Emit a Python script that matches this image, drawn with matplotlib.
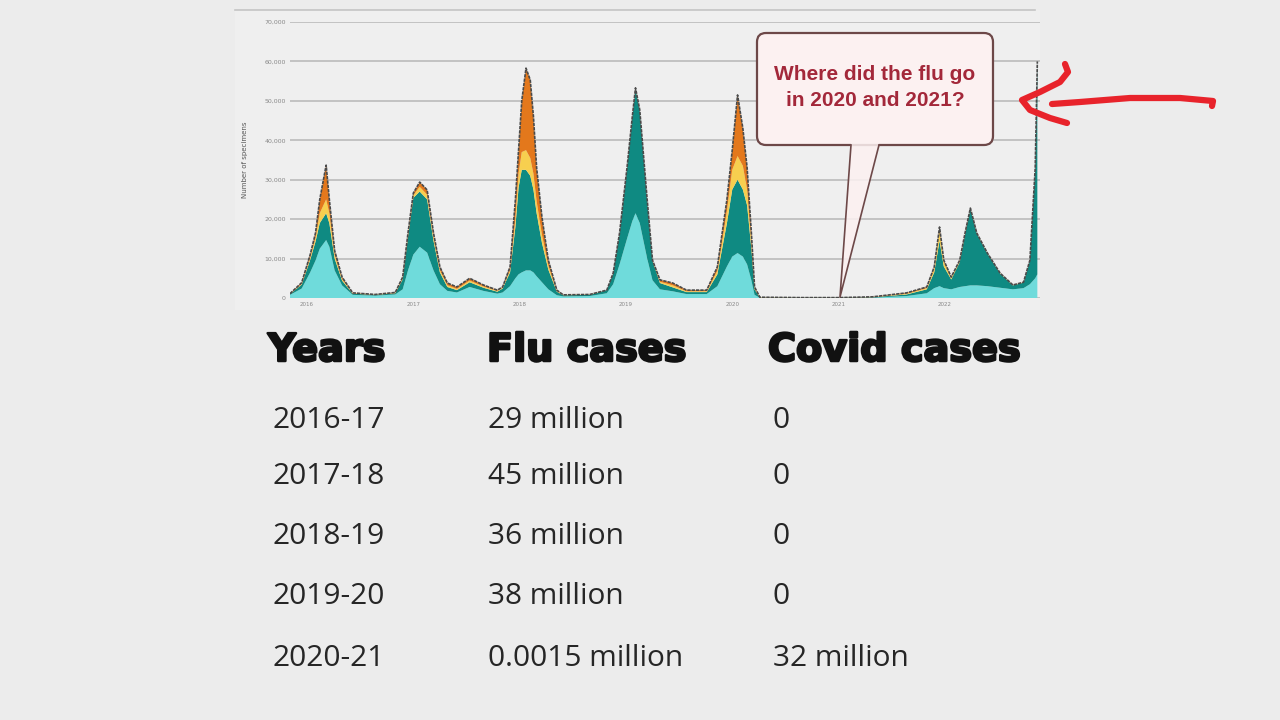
import matplotlib
matplotlib.use("Agg")
import matplotlib.pyplot as plt
import matplotlib.patheffects as pe
from matplotlib.patches import FancyBboxPatch, Polygon
from matplotlib.lines import Line2D
from matplotlib.transforms import Affine2D
import numpy as np

# weekly-ish points (year as decimal, values in thousands)
years = [2015.84, 2015.95, 2016.03, 2016.08, 2016.12, 2016.18, 2016.21, 2016.26, 2016.33, 2016.43, 2016.64, 2016.83,
         2016.90, 2016.95, 2017.00, 2017.06, 2017.13, 2017.19, 2017.25, 2017.32, 2017.41, 2017.53, 2017.66, 2017.79,
         2017.84, 2017.91, 2017.96, 2017.99, 2018.02, 2018.06, 2018.10, 2018.13, 2018.16, 2018.21, 2018.27, 2018.35,
         2018.41, 2018.66,
         2018.82, 2018.88, 2018.94, 2019.01, 2019.06, 2019.09, 2019.13, 2019.20, 2019.25, 2019.32, 2019.44, 2019.57,
         2019.76,
         2019.86, 2019.95, 2020.00, 2020.05, 2020.10, 2020.14, 2020.18, 2020.21, 2020.26, 2020.64, 2021.01, 2021.32,
         2021.64, 2021.83, 2021.90, 2021.95, 2021.99, 2022.06, 2022.14, 2022.19, 2022.24, 2022.30, 2022.40, 2022.52,
         2022.64, 2022.74, 2022.80, 2022.85, 2022.87]
light = [0.8, 2.4, 6.5, 9.5, 12.5, 14.7, 13.0, 7.0, 3.2, 0.8, 0.6, 0.9,
         2.2, 7.0, 11.0, 13.0, 11.5, 7.0, 3.5, 1.8, 1.4, 2.8, 1.8, 1.1,
         1.4, 3.0, 5.0, 6.0, 6.5, 7.0, 7.0, 6.5, 5.5, 4.0, 2.2, 0.7,
         0.4, 0.5,
         1.2, 3.5, 8.5, 15.0, 19.5, 21.5, 19.0, 10.0, 4.5, 2.2, 1.7, 1.0,
         1.0,
         3.0, 8.0, 10.5, 11.4, 10.5, 8.5, 4.5, 0.8, 0.05, 0.03, 0.03, 0.1,
         0.5, 1.2, 2.5, 3.0, 2.5, 2.2, 2.8, 3.0, 3.2, 3.2, 3.0, 2.6,
         2.2, 2.5, 3.5, 5.0, 6.0]
teal = [0.2, 1.0, 3.2, 4.8, 6.5, 6.8, 6.0, 3.0, 1.2, 0.3, 0.2, 0.3,
        2.5, 8.5, 14.4, 14.0, 13.5, 7.5, 3.0, 1.0, 0.6, 1.2, 0.8, 0.5,
        1.0, 3.5, 13.0, 22.0, 26.0, 25.5, 24.0, 21.0, 16.0, 10.0, 5.0, 0.9,
        0.3, 0.3,
        0.8, 2.7, 7.8, 17.8, 26.3, 31.6, 28.5, 14.7, 4.9, 1.6, 1.0, 0.5,
        0.5,
        3.0, 11.0, 17.0, 18.6, 17.0, 15.0, 8.0, 1.4, 0.05, 0.03, 0.03, 0.1,
        0.4, 1.0, 4.0, 11.5, 5.5, 2.5, 6.3, 13.2, 19.4, 13.2, 8.3, 3.6,
        1.0, 1.4, 6.0, 27.9, 54.0]
yellow = [0.05, 0.2, 0.6, 1.0, 2.5, 3.5, 2.5, 1.0, 0.4, 0.1, 0.05, 0.1,
          0.3, 0.5, 0.6, 1.2, 1.2, 1.0, 0.6, 0.4, 0.3, 0.4, 0.3, 0.2,
          0.2, 0.6, 2.0, 3.5, 4.5, 5.0, 4.5, 4.0, 3.0, 2.0, 1.0, 0.2,
          0.05, 0.05,
          0.0, 0.05, 0.1, 0.1, 0.1, 0.1, 0.1, 0.1, 0.1, 0.3, 0.5, 0.2,
          0.2,
          0.9, 3.0, 5.0, 6.0, 6.0, 4.0, 2.0, 0.3, 0.05, 0.02, 0.02, 0.05,
          0.2, 0.3, 1.0, 3.0, 1.2, 0.4, 0.3, 0.2, 0.1, 0.05, 0.05, 0.05,
          0.05, 0.05, 0.05, 0.05, 0.0]
orange = [0.05, 0.3, 0.7, 1.2, 3.5, 8.7, 3.5, 1.0, 0.5, 0.1, 0.05, 0.1,
          0.3, 0.5, 0.6, 1.2, 1.2, 1.0, 0.8, 0.6, 0.5, 0.6, 0.4, 0.2,
          0.2, 0.8, 4.9, 6.0, 13.0, 20.8, 19.8, 14.5, 8.5, 4.5, 1.4, 0.2,
          0.05, 0.05,
          0.0, 0.05, 0.1, 0.1, 0.1, 0.1, 0.1, 0.1, 0.1, 0.5, 0.6, 0.3,
          0.3,
          1.0, 3.0, 5.0, 15.5, 9.5, 5.5, 2.0, 0.3, 0.05, 0.02, 0.02, 0.05,
          0.2, 0.3, 0.4, 0.5, 0.4, 0.2, 0.2, 0.1, 0.1, 0.05, 0.05, 0.05,
          0.05, 0.05, 0.05, 0.05, 0.0]

yticks = [0, 10000, 20000, 30000, 40000, 50000, 60000, 70000]
xticks = [2016, 2017, 2018, 2019, 2020, 2021, 2022]

table_head = ["Years", "Flu cases", "Covid cases"]
seasons = ["2016-17", "2017-18", "2018-19", "2019-20", "2020-21"]
flu_cases = ["29 million", "45 million", "36 million", "38 million", "0.0015 million"]
covid_cases = ["0", "0", "0", "0", "32 million"]

W, H = 1280, 720
fig = plt.figure(figsize=(W / 100, H / 100), dpi=100)
fig.patch.set_facecolor("#ececec")
# pixel coords, origin top-left
px = Affine2D().scale(1 / W, -1 / H).translate(0, 1) + fig.transFigure

# light panel behind the chart
fig.patches.append(FancyBboxPatch((235, 10), 805, 300, boxstyle="square,pad=0",
                                  fc="#efefef", ec="none", transform=px, zorder=-5))
fig.lines.append(Line2D([235, 1035], [10, 10], color="#c4c4c4", lw=1.2, transform=px, zorder=-4))

ax = fig.add_axes([290 / W, 1 - 298 / H, 750 / W, 276 / H])
ax.set_facecolor("none")
x = np.array(years)
layers = np.array([light, teal, yellow, orange]) * 1000
ax.stackplot(x, layers, colors=["#6fdbdb", "#0f8a82", "#f7cf4f", "#e3781c"], lw=0)
ax.plot(x, layers.sum(axis=0), color="#4a4a4a", lw=1.2, ls=(0, (2, 0.6)))

ax.set_xlim(2015.84, 2022.895)
ax.set_ylim(0, 70000)
ax.set_yticks(yticks)
ax.set_yticklabels([f"{v:,}" for v in yticks], fontsize=4.5, color="#888888")
ax.set_xticks(xticks)
ax.set_xticklabels([str(v) for v in xticks], fontsize=4, color="#888888")
ax.tick_params(length=0, pad=3)
ax.grid(axis="y", color="#c2c2c2", lw=1.4)
ax.set_axisbelow(True)
for s in ax.spines.values():
    s.set_visible(False)
ax.set_ylabel("Number of specimens", fontsize=5, color="#555555", labelpad=12)

# speech bubble
bub_fc = "#fcf1f1"
bub_ec = "#6d4848"
fig.patches.append(FancyBboxPatch((757, 33), 236, 112, boxstyle="round,pad=0,rounding_size=9",
                                  fc=bub_fc, ec=bub_ec, lw=1.6, transform=px, zorder=5))
fig.patches.append(Polygon([(851, 143), (840, 297), (879, 143)], closed=True,
                           fc=bub_fc, ec="none", alpha=0.85, transform=px, zorder=6))
fig.lines.append(Line2D([851, 840, 879], [145, 297, 145], color=bub_ec, lw=1.2,
                        transform=px, zorder=7))
fig.text(875, 75, "Where did the flu go", transform=px, ha="center", va="center",
         fontsize=15, fontweight="bold", color="#a3283a", family="Liberation Sans", zorder=8)
fig.text(875, 100, "in 2020 and 2021?", transform=px, ha="center", va="center",
         fontsize=15, fontweight="bold", color="#a3283a", family="Liberation Sans", zorder=8)

# hand drawn red arrow
red = "#e8232b"
fig.lines.append(Line2D([1052, 1080, 1130, 1180, 1213, 1212],
                        [104, 102, 98, 98, 101, 106], color=red, lw=4.5,
                        solid_capstyle="round", solid_joinstyle="round", transform=px, zorder=9))
fig.lines.append(Line2D([1065, 1068, 1060, 1040, 1022, 1030, 1050, 1067],
                        [64, 72, 82, 92, 100, 110, 118, 123], color=red, lw=4.5,
                        solid_capstyle="round", solid_joinstyle="round", transform=px, zorder=9))

# table
heavy = [pe.withStroke(linewidth=1.8, foreground="#111111")]
head_x = [268, 487, 768]
for hx, t in zip(head_x, table_head):
    fig.text(hx, 351, t, transform=px, ha="left", va="center", fontsize=27.5,
             family="DejaVu Sans", fontweight="bold", color="#111111", path_effects=heavy)
row_y = [420, 477, 537, 597, 658]
for ry, a, b, c in zip(row_y, seasons, flu_cases, covid_cases):
    fig.text(272, ry, a, transform=px, ha="left", va="center", fontsize=21.5,
             family="Open Sans", color="#262626")
    fig.text(488, ry, b, transform=px, ha="left", va="center", fontsize=21.5,
             family="Open Sans", color="#262626")
    fig.text(773, ry, c, transform=px, ha="left", va="center", fontsize=21.5,
             family="Open Sans", color="#262626")

fig.savefig("out.png", dpi=100, facecolor=fig.get_facecolor())
